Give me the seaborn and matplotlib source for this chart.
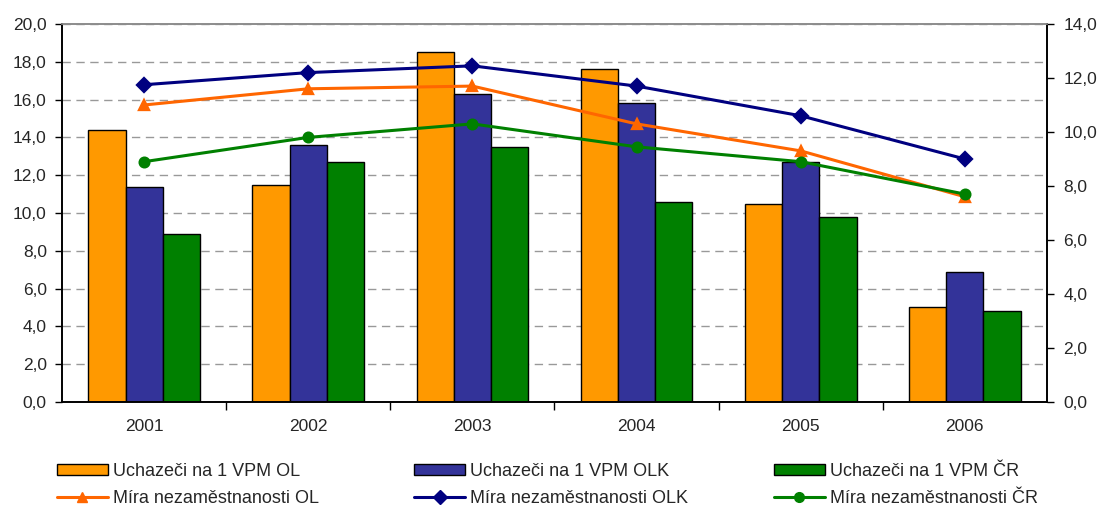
import matplotlib
matplotlib.use("Agg")
import matplotlib.pyplot as plt
from matplotlib.patches import Patch
from matplotlib.lines import Line2D
from matplotlib.ticker import FuncFormatter, FixedLocator, NullFormatter
import seaborn as sns
import pandas as pd

years = ["2001", "2002", "2003", "2004", "2005", "2006"]

bar_names = ["Uchazeči na 1 VPM OL", "Uchazeči na 1 VPM OLK", "Uchazeči na 1 VPM ČR"]
bar_ol = [14.4, 11.5, 18.5, 17.6, 10.5, 5.0]
bar_olk = [11.4, 13.6, 16.3, 15.8, 12.7, 6.9]
bar_cr = [8.9, 12.7, 13.5, 10.6, 9.8, 4.8]

line_names = ["Míra nezaměstnanosti OL", "Míra nezaměstnanosti OLK", "Míra nezaměstnanosti ČR"]
line_ol = [11.0, 11.6, 11.7, 10.3, 9.3, 7.6]
line_olk = [11.75, 12.2, 12.45, 11.7, 10.6, 9.0]
line_cr = [8.9, 9.8, 10.3, 9.45, 8.9, 7.7]

bar_colors = ["#FF9900", "#333399", "#008000"]
line_colors = ["#FF6600", "#000080", "#008000"]
line_markers = ["^", "D", "o"]

bars_df = pd.DataFrame({
    "year": years * 3,
    "series": [bar_names[0]] * 6 + [bar_names[1]] * 6 + [bar_names[2]] * 6,
    "value": bar_ol + bar_olk + bar_cr,
})
lines_df = pd.DataFrame({
    "year": years * 3,
    "series": [line_names[0]] * 6 + [line_names[1]] * 6 + [line_names[2]] * 6,
    "value": line_ol + line_olk + line_cr,
})

sns.set_style("white")
plt.rcParams["font.family"] = ["Liberation Sans", "DejaVu Sans"]

fig = plt.figure(figsize=(10.98, 5.05), dpi=100)
ax = fig.add_axes([0.0565, 0.204, 0.897, 0.7485])

sns.barplot(data=bars_df, x="year", y="value", hue="series", order=years,
            hue_order=bar_names, palette=bar_colors, width=0.68,
            edgecolor="black", linewidth=1.0, saturation=1, legend=False, ax=ax)

ax.set_ylim(0, 20)
ax.set_yticks(range(0, 21, 2))
fmt = FuncFormatter(lambda v, p: f"{v:.1f}".replace(".", ","))
ax.yaxis.set_major_formatter(fmt)
ax.yaxis.grid(True, linestyle=(0, (6, 4)), color="#999999", linewidth=1.0)
ax.set_axisbelow(True)
ax.set_xlabel("")
ax.set_ylabel("")
ax.set_xlim(-0.5, 5.5)

ax2 = ax.twinx()
sns.pointplot(data=lines_df, x="year", y="value", hue="series", order=years,
              hue_order=line_names, palette=line_colors, markers=line_markers,
              linestyles="-", errorbar=None, legend=False, ax=ax2,
              markersize=7, linewidth=2.2)
ax2.set_ylim(0, 14)
ax2.set_yticks(range(0, 15, 2))
ax2.yaxis.set_major_formatter(fmt)
ax2.set_ylabel("")
ax2.set_xlim(-0.5, 5.5)

for a in (ax, ax2):
    for s in a.spines.values():
        s.set_visible(True)
    a.spines["left"].set_color("black")
    a.spines["right"].set_color("black")
    a.spines["bottom"].set_color("black")
    a.spines["top"].set_color("#8c8c8c")
    a.spines["left"].set_linewidth(1.2)
    a.spines["right"].set_linewidth(1.2)
    a.spines["bottom"].set_linewidth(1.2)
    a.spines["top"].set_linewidth(1.2)

ax.tick_params(axis="y", which="major", direction="out", length=5, width=1,
               color="black", labelsize=12.5, pad=6, left=True)
ax2.tick_params(axis="y", which="major", direction="out", length=5, width=1,
                color="black", labelsize=12.5, pad=7, right=True)
ax.tick_params(axis="x", which="major", length=0, labelsize=12.5, pad=12, bottom=True)
ax.xaxis.set_minor_locator(FixedLocator([0.5, 1.5, 2.5, 3.5, 4.5]))
ax.xaxis.set_minor_formatter(NullFormatter())
ax.tick_params(axis="x", which="minor", direction="out", length=6, width=1,
               color="black", bottom=True)
ax2.tick_params(axis="x", which="both", length=0, labelbottom=False)

legend_x = [0.052, 0.3775, 0.705]
for i in range(3):
    hs = [Patch(facecolor=bar_colors[i], edgecolor="black", linewidth=1.0),
          Line2D([], [], color=line_colors[i], marker=line_markers[i],
                 markersize=7, linewidth=2.2)]
    ls = [bar_names[i], line_names[i]]
    fig.legend(hs, ls, ncol=1, loc="upper left",
               bbox_to_anchor=(legend_x[i], 0.083), frameon=False, fontsize=13,
               handlelength=2.8, handleheight=0.55, handletextpad=0.3,
               labelspacing=0.55, borderaxespad=0, borderpad=0)

fig.savefig("out.png", dpi=100)
